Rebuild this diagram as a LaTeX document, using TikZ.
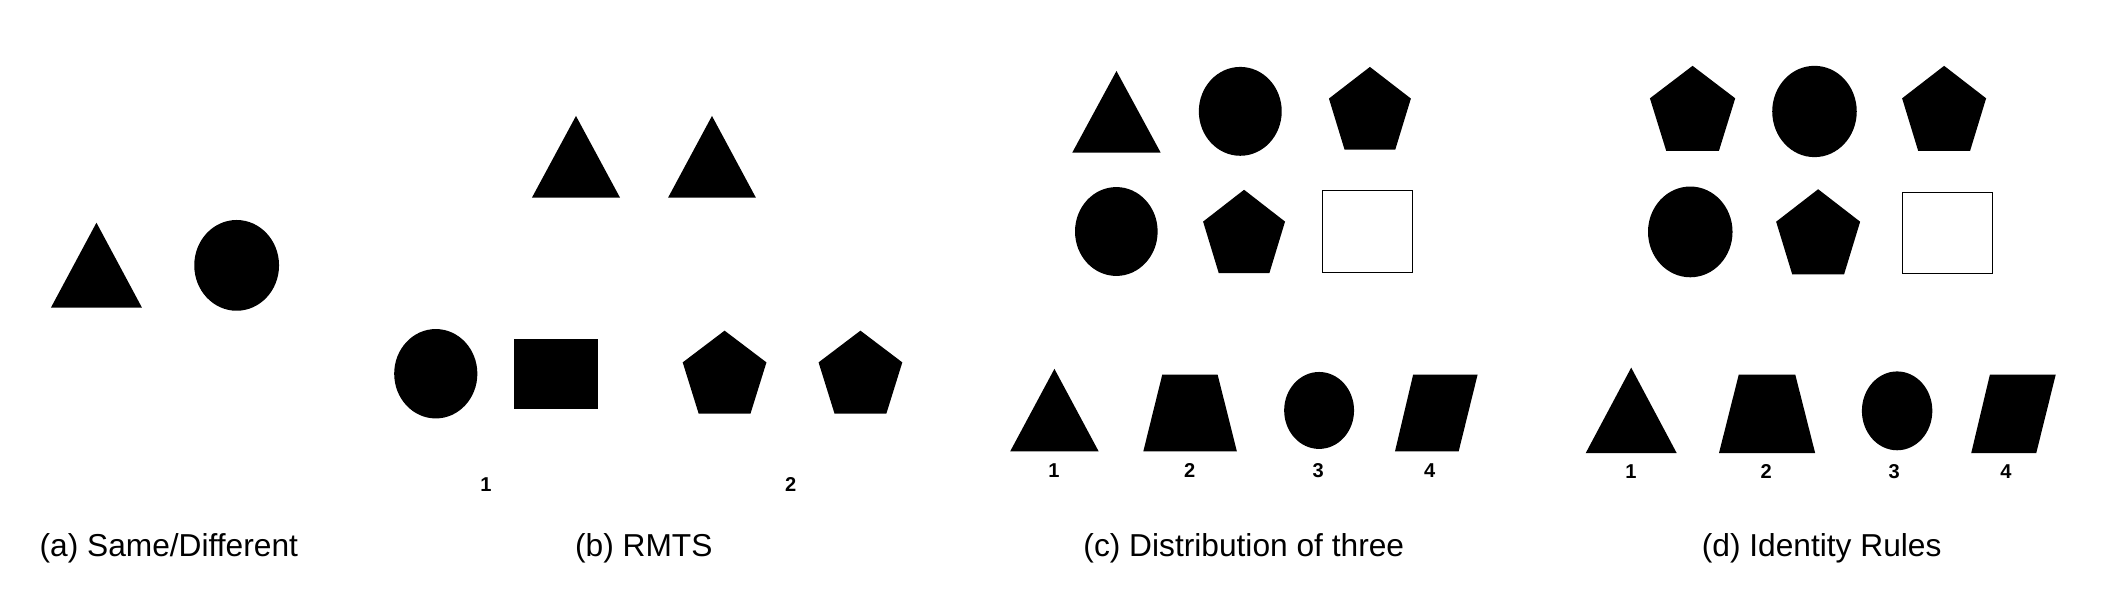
\documentclass[tikz,border=0pt]{standalone}
\usepackage{fontspec}
\setmainfont{Liberation Sans}
\newcommand{\pentat}[4]{%
  \fill[shapefill] ({#1},{#2-#4}) -- ({#1-#3*0.9511},{#2-#4*0.3090}) -- ({#1-#3*0.5878},{#2+#4*0.8090}) -- ({#1+#3*0.5878},{#2+#4*0.8090}) -- ({#1+#3*0.9511},{#2-#4*0.3090}) -- cycle;}
\newcommand{\triat}[4]{% apex x, apex y, base y, half width
  \fill[shapefill] ({#1},{#2}) -- ({#1+#4},{#3}) -- ({#1-#4},{#3}) -- cycle;}
\begin{document}
\begin{tikzpicture}[x=1pt,y=-1pt,
  shapefill/.style={fill=black},
  caption/.style={font=\fontsize{23.4}{28}\selectfont, inner sep=0pt, anchor=center},
  numlabel/.style={font=\fontsize{14.8}{17}\selectfont\bfseries, inner sep=0pt, anchor=center},
  emptybox/.style={draw=black, line width=0.8pt, fill=white}]
\useasboundingbox[fill=white] (0,0) rectangle (1568,447);

% (a) Same/Different
\triat{71.2}{164.4}{227.1}{33.6}
\fill[shapefill] (174.7,195.9) ellipse [x radius=31.3, y radius=33.5];
\node[caption] (capa) at (124.6,404.5) {(a) Same/Different};

% (b) RMTS
\triat{425.2}{85.6}{145.9}{32.5}
\triat{525.6}{85.6}{145.9}{32.4}
\fill[shapefill] (321.7,275.9) ellipse [x radius=30.7, y radius=33];
\fill[shapefill] (379.4,250.3) rectangle (441.5,301.9);
\pentat{534.9}{278.0}{32.5}{33.9}
\pentat{635.2}{278.0}{32.5}{33.9}
\node[numlabel] (b1) at (358.8,358) {1};
\node[numlabel] (b2) at (583.7,358) {2};
\node[caption] (capb) at (475.3,404.5) {(b) RMTS};

% (c) Distribution of three
\triat{824.2}{52.4}{112.6}{32.6}
\fill[shapefill] (915.6,82.2) ellipse [x radius=30.6, y radius=32.8];
\pentat{1011.3}{83.2}{31.8}{33.8}
\fill[shapefill] (824.1,170.9) ellipse [x radius=30.5, y radius=32.8];
\pentat{918.4}{174.1}{31.8}{34}
\draw[emptybox] (976.2,140.6) rectangle (1042.7,201.4);
\triat{778.4}{272.3}{333.3}{32.7}
\fill[shapefill] (858,276.6) -- (898.9,276.6) -- (913.1,333.3) -- (844,333.3) -- cycle;
\fill[shapefill] (973.8,303) ellipse [x radius=25.8, y radius=28.4];
\fill[shapefill] (1043.2,276.6) -- (1090.8,276.6) -- (1076.8,333.3) -- (1029.8,333.3) -- cycle;
\node[numlabel] (c1) at (778,347.5) {1};
\node[numlabel] (c2) at (878.3,347.5) {2};
\node[numlabel] (c3) at (973.1,347.5) {3};
\node[numlabel] (c4) at (1055.5,347.5) {4};
\node[caption] (capc) at (918.2,404.5) {(c) Distribution of three};

% (d) Identity Rules
\pentat{1249.5}{83.3}{33.1}{34.7}
\fill[shapefill] (1339.5,82.3) ellipse [x radius=31.2, y radius=33.7];
\pentat{1435.2}{83.3}{32.6}{34.7}
\fill[shapefill] (1247.8,171.2) ellipse [x radius=31.2, y radius=33.5];
\pentat{1342.2}{174.4}{32.6}{34.7}
\draw[emptybox] (1404.4,142) rectangle (1471,202.1);
\triat{1204.2}{271.4}{334.5}{33.6}
\fill[shapefill] (1283.6,276.5) -- (1325.3,276.5) -- (1340,334.5) -- (1269,334.5) -- cycle;
\fill[shapefill] (1400.5,303.3) ellipse [x radius=26, y radius=29.1];
\fill[shapefill] (1469,276.5) -- (1517.6,276.5) -- (1503.2,334.5) -- (1455.2,334.5) -- cycle;
\node[numlabel] (d1) at (1204,348) {1};
\node[numlabel] (d2) at (1303.8,348) {2};
\node[numlabel] (d3) at (1398.3,348) {3};
\node[numlabel] (d4) at (1480.9,348) {4};
\node[caption] (capd) at (1344.8,404.5) {(d) Identity Rules};
\end{tikzpicture}
\end{document}
